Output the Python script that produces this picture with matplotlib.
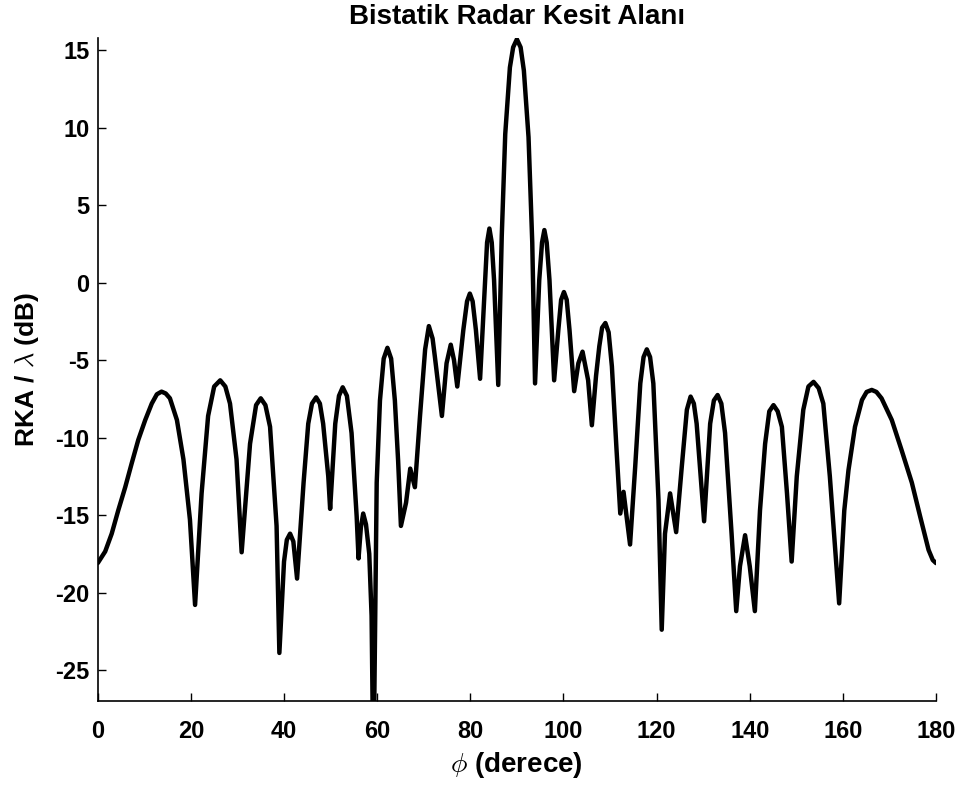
import matplotlib
matplotlib.use("Agg")
import matplotlib.pyplot as plt

# Bistatic RCS pattern, sampled in degrees / dB
phi_deg = [
    0.0, 1.6, 3.0, 4.4, 5.9, 7.3, 8.7, 10.2, 11.6, 12.7, 13.7, 14.6, 15.5, 17.0,
    18.4, 19.8, 20.9,
    22.3, 23.7, 25.0, 26.3, 27.4, 28.4, 29.8, 30.9, 32.7, 34.0, 35.0, 36.0, 37.0,
    38.4, 39.0, 40.0, 40.6, 41.3, 42.0, 42.8, 44.2, 45.2, 46.0, 46.9, 47.7, 48.4,
    49.5, 49.9, 51.0, 51.8, 52.6, 53.5, 54.5, 55.6, 56.0, 56.5, 57.0, 57.6, 58.3,
    58.8, 59.2, 59.9, 60.6, 61.4, 62.2, 63.0, 63.8, 64.5, 65.1, 66.2, 67.1, 68.1,
    69.2, 70.3, 71.1, 71.9, 72.4, 73.9, 74.9, 75.8, 76.5, 77.2, 78.5, 79.3, 79.9,
    80.5, 81.2, 82.1, 83.2, 83.6, 84.1, 84.6, 85.1, 86.0, 86.75, 87.5, 88.5, 89.2,
    90.0, 90.8, 91.5, 92.5, 93.3, 93.9, 94.8, 95.4, 95.9, 96.4, 97.0, 98.0, 98.9,
    99.5, 100.1, 100.7, 101.3, 102.3, 103.2, 104.1, 105.3, 106.1, 107.0, 107.7,
    108.3, 109.0, 109.7, 110.4, 111.4, 112.2, 112.9, 114.3, 115.4, 116.5, 117.2,
    117.9, 118.6, 119.3, 120.4, 121.1, 121.8, 122.9, 124.2, 125.4, 126.5, 127.3,
    128.0, 128.6, 130.2, 131.5, 132.3, 133.1, 133.9, 134.7, 136.1, 137.1, 137.9,
    139.0, 140.0, 141.1, 142.2, 143.3, 144.2, 145.1, 146.0, 146.9, 148.0, 149.0,
    150.1, 151.5, 152.6, 153.7, 154.8, 155.8, 157.2, 159.2, 160.3, 161.2, 162.6,
    164.1, 165.1, 166.2, 167.2, 168.3, 170.5, 172.6, 174.8, 176.6, 178.4, 179.3,
    180.0,
]
rka_db = [
    -18.1, -17.35, -16.2, -14.7, -13.2, -11.65, -10.15, -8.86, -7.8, -7.2, -7.03, -7.15, -7.46, -8.86,
    -11.4, -15.3, -20.8,
    -13.6, -8.6, -6.7, -6.3, -6.7, -7.8, -11.4, -17.4, -10.4, -7.9, -7.46, -7.9, -9.3,
    -15.7, -23.9, -18.0, -16.6, -16.2, -16.7, -19.1, -12.9, -9.1, -7.8, -7.4, -7.8, -9.1,
    -12.5, -14.6, -9.1, -7.3, -6.75, -7.3, -9.7, -15.1, -17.8, -15.8, -14.9, -15.6, -17.5,
    -21.5, -32.0, -12.9, -7.6, -4.9, -4.2, -4.9, -7.6, -11.5, -15.7, -14.2, -12.0, -13.2,
    -8.6, -4.3, -2.8, -3.6, -4.8, -8.6, -5.2, -4.0, -5.0, -6.7, -3.05, -1.2, -0.7,
    -1.2, -3.05, -6.2, 0.17, 2.6, 3.5, 2.6, 0.17, -6.6, 3.0, 9.6, 13.9, 15.2,
    15.72, 15.2, 13.7, 9.4, 2.6, -6.5, 0.17, 2.6, 3.4, 2.6, 0.17, -6.3, -3.05,
    -1.1, -0.6, -1.1, -3.05, -7.0, -5.2, -4.45, -6.3, -9.2, -6.0, -4.1,
    -2.9, -2.6, -3.2, -5.4, -10.8, -14.9, -13.5, -16.9, -11.9, -6.5, -4.8,
    -4.3, -4.8, -6.5, -14.0, -22.4, -16.2, -13.6, -16.1, -11.9, -8.2, -7.35,
    -7.8, -9.1, -15.4, -9.1, -7.6, -7.25, -7.8, -9.7, -16.2, -21.2, -18.3,
    -16.3, -18.3, -21.2, -14.7, -10.4, -8.3, -7.9, -8.3, -9.3, -13.6, -18.0,
    -12.5, -8.2, -6.7, -6.4, -6.8, -7.8, -12.5, -20.7, -14.7, -12.1, -9.3,
    -7.57, -7.05, -6.92, -7.05, -7.46, -8.86, -10.8, -12.9, -15.1, -17.25, -17.9,
    -18.1,
]

x_ticks = [0, 20, 40, 60, 80, 100, 120, 140, 160, 180]
y_ticks = [-25, -20, -15, -10, -5, 0, 5, 10, 15]

plt.rcParams['font.family'] = ['Liberation Sans', 'DejaVu Sans']
plt.rcParams['font.weight'] = 'bold'
plt.rcParams['mathtext.fontset'] = 'cm'
plt.rcParams['axes.unicode_minus'] = False

fig = plt.figure(figsize=(9.62, 7.90), dpi=100)
ax = fig.add_axes([0.1016, 0.1127, 0.8714, 0.8392])

ax.plot(phi_deg, rka_db, color='black', linewidth=3.2,
        solid_joinstyle='round', solid_capstyle='round')

ax.set_xlim(0, 180)
ax.set_ylim(-27, 15.8)
ax.set_xticks(x_ticks)
ax.set_yticks(y_ticks)
ax.tick_params(direction='in', length=6, width=1.0, labelsize=17)
ax.tick_params(axis='x', pad=14)
ax.tick_params(axis='y', pad=6)
for lab in ax.get_xticklabels() + ax.get_yticklabels():
    lab.set_fontweight('bold')

ax.spines['top'].set_visible(False)
ax.spines['right'].set_visible(False)
ax.spines['left'].set_linewidth(1.2)
ax.spines['bottom'].set_linewidth(1.2)

ax.set_title('Bistatik Radar Kesit Alanı', fontsize=20, fontweight='bold', pad=10)
ax.set_xlabel(r'$\phi$ (derece)', fontsize=20, fontweight='bold', labelpad=5)
ax.set_ylabel(r'RKA / $\lambda$ (dB)', fontsize=19, fontweight='bold', labelpad=10)

fig.savefig('out.png', dpi=100)
